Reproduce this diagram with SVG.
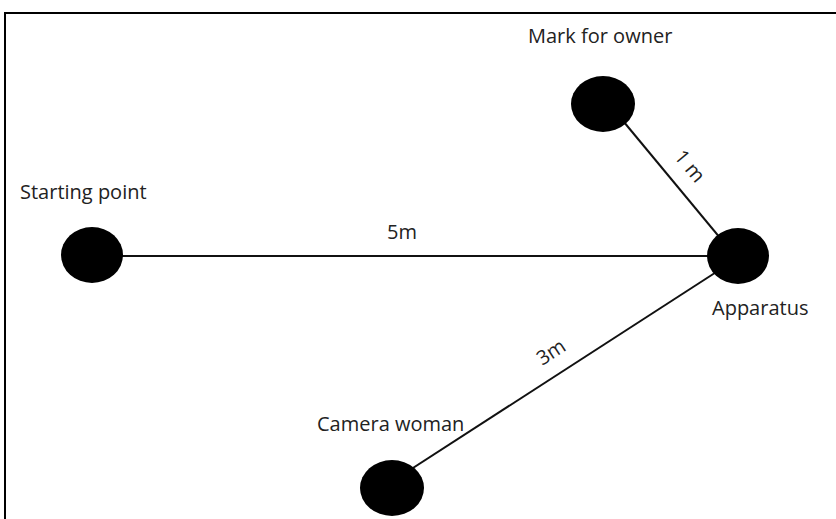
<svg xmlns="http://www.w3.org/2000/svg" width="836" height="519" viewBox="0 0 836 519">
<style>
.lbl{font-family:"Open Sans","Liberation Sans",sans-serif;font-size:20px;fill:#222}
.node{fill:#000}
.conn{stroke:#111;stroke-width:2;fill:none}
</style>
<rect x="0" y="0" width="836" height="519" fill="#fff"/>
<rect x="5" y="13" width="845" height="520" fill="none" stroke="#000" stroke-width="2"/>
<g id="connectors">
<line class="conn" x1="92" y1="256" x2="738" y2="256"/>
<line class="conn" x1="609" y1="104" x2="735" y2="256"/>
<line class="conn" x1="382" y1="488" x2="738" y2="258"/>
<text class="lbl" x="402" y="239" text-anchor="middle">5m</text>
<text class="lbl" transform="translate(690,166) rotate(50)" y="7" text-anchor="middle">1 m</text>
<text class="lbl" transform="translate(551,352) rotate(-33)" y="7" text-anchor="middle">3m</text>
</g>
<g id="starting-point">
<ellipse class="node" cx="92" cy="255" rx="31" ry="28"/>
<text class="lbl" x="20" y="199">Starting point</text>
</g>
<g id="mark-for-owner">
<ellipse class="node" cx="603" cy="104" rx="32" ry="28"/>
<text class="lbl" x="528" y="43">Mark for owner</text>
</g>
<g id="apparatus">
<ellipse class="node" cx="738" cy="256" rx="31" ry="28"/>
<text class="lbl" x="712" y="315">Apparatus</text>
</g>
<g id="camera-woman">
<ellipse class="node" cx="392" cy="488" rx="32" ry="28"/>
<text class="lbl" x="317" y="431">Camera woman</text>
</g>
</svg>
